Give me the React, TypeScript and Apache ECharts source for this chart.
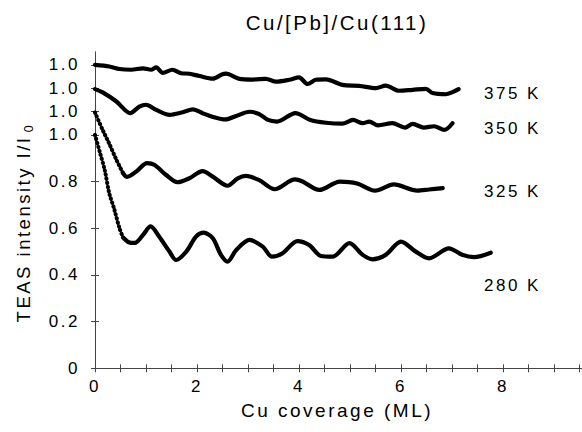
import React, { useEffect, useRef } from "react";
import * as echarts from "echarts";

const chartTitle = "Cu/[Pb]/Cu(111)";
const xAxisTitle = "Cu coverage (ML)";
const yAxisTitle = "TEAS intensity I/I";
const yAxisTitleSub = "0";

const xTicks = [0, 0.5, 1, 1.5, 2, 2.5, 3, 3.5, 4, 4.5, 5, 5.5, 6, 6.5, 7, 7.5, 8, 8.5, 9, 9.5];
const xTickLabels = [0, 2, 4, 6, 8];
const yTicks = [0, 0.2, 0.4, 0.6, 0.8, 1.0, 1.1, 1.2, 1.3];
const yTickLabels = ["0", "0.2", "0.4", "0.6", "0.8", "1.0", "1.0", "1.0", "1.0"];

const tempLabels = ["375 K", "350 K", "325 K", "280 K"];

const x375 = [0, 0.28, 0.48, 0.71, 0.94, 1.1, 1.2, 1.33, 1.52, 1.69, 1.85, 2.05, 2.31, 2.5, 2.57, 2.83, 3.09, 3.35, 3.55, 3.81, 4.0, 4.17, 4.33, 4.53, 4.85, 5.18, 5.51, 5.7, 5.96, 6.23, 6.49, 6.62, 6.88, 7.01, 7.13];
const y375 = [1.3, 1.293, 1.282, 1.279, 1.285, 1.279, 1.289, 1.266, 1.279, 1.264, 1.262, 1.252, 1.241, 1.26, 1.262, 1.24, 1.237, 1.24, 1.228, 1.236, 1.246, 1.218, 1.236, 1.238, 1.214, 1.21, 1.2, 1.211, 1.189, 1.193, 1.197, 1.179, 1.174, 1.183, 1.196];

const x350 = [0, 0.15, 0.42, 0.69, 0.87, 1.0, 1.2, 1.46, 1.72, 1.92, 2.11, 2.3, 2.56, 2.77, 3.03, 3.22, 3.39, 3.57, 3.93, 4.22, 4.53, 4.85, 5.06, 5.25, 5.38, 5.55, 5.83, 6.08, 6.23, 6.45, 6.65, 6.85, 7.01];
const y350 = [1.196, 1.182, 1.143, 1.093, 1.121, 1.129, 1.107, 1.086, 1.097, 1.109, 1.093, 1.078, 1.066, 1.081, 1.099, 1.089, 1.064, 1.057, 1.093, 1.064, 1.052, 1.048, 1.064, 1.05, 1.057, 1.041, 1.05, 1.031, 1.047, 1.031, 1.037, 1.021, 1.05];

const x325 = [0, 0.15, 0.28, 0.42, 0.55, 0.63, 0.81, 1.02, 1.17, 1.39, 1.62, 1.85, 2.11, 2.31, 2.6, 2.8, 2.96, 3.22, 3.52, 3.92, 4.07, 4.4, 4.8, 5.14, 5.49, 5.86, 6.32, 6.55, 6.82];
const y325 = [1.096, 1.021, 0.962, 0.893, 0.836, 0.82, 0.843, 0.879, 0.871, 0.829, 0.797, 0.814, 0.845, 0.821, 0.782, 0.814, 0.824, 0.806, 0.767, 0.809, 0.8, 0.764, 0.8, 0.792, 0.761, 0.788, 0.761, 0.766, 0.772];

const x280 = [0, 0.09, 0.19, 0.28, 0.38, 0.48, 0.55, 0.66, 0.78, 0.94, 1.09, 1.26, 1.46, 1.59, 1.79, 1.98, 2.13, 2.31, 2.47, 2.6, 2.77, 3.03, 3.29, 3.47, 3.68, 3.97, 4.2, 4.43, 4.66, 4.99, 5.25, 5.44, 5.7, 6.0, 6.29, 6.55, 6.94, 7.2, 7.43, 7.76];
const y280 = [1.0, 0.93, 0.85, 0.75, 0.68, 0.6, 0.56, 0.54, 0.537, 0.571, 0.608, 0.564, 0.5, 0.464, 0.5, 0.564, 0.581, 0.557, 0.486, 0.457, 0.507, 0.55, 0.521, 0.478, 0.493, 0.545, 0.528, 0.481, 0.478, 0.536, 0.486, 0.467, 0.486, 0.543, 0.5, 0.471, 0.514, 0.486, 0.476, 0.495];

const steepEnd280 = 0.55;
const steepEnd325 = 0.55;

const FONT = '"Liberation Sans", Arial, sans-serif';
const SPACING = 2.5;

function pairs(xs: number[], ys: number[]) {
  return xs.map((v, i) => [v, ys[i]]);
}
function part(xs: number[], ys: number[], lo: number, hi: number) {
  return pairs(xs, ys).filter((p) => p[0] >= lo && p[0] <= hi);
}

export default function App() {
  const ref = useRef<HTMLDivElement>(null);
  useEffect(() => {
    if (!ref.current) return;
    const chart = echarts.init(ref.current, undefined, { renderer: "svg", width: 582, height: 432 });
    const solid = { color: "#000", width: 4.2, cap: "round", join: "round" };
    const dotted = { color: "#000", width: 4, type: [0.5, 3.6], cap: "round" };
    const base = { type: "line", showSymbol: false, smooth: 0.3, silent: true, clip: false };
    const axisColor = "#444";
    const tickCommon = { show: true, inside: true, length: 4, lineStyle: { color: axisColor, width: 1 } };
    const labelStyle = { color: "#000", fontSize: 17, fontFamily: FONT };
    const option: any = {
      animation: false,
      textStyle: { fontFamily: FONT },
      grid: { left: 95, top: 52, width: 487.5, height: 316.3, containLabel: false },
      xAxis: [
        {
          type: "value", min: 0, max: 9.55, position: "bottom",
          axisLine: { show: true, lineStyle: { color: axisColor, width: 1 } },
          axisTick: { ...tickCommon, customValues: xTicks },
          axisLabel: { ...labelStyle, margin: 10, customValues: xTickLabels, formatter: (v: number) => String(v) },
          splitLine: { show: false },
        },
        {
          type: "value", min: 0, max: 9.55, position: "top",
          axisLine: { show: true, lineStyle: { color: axisColor, width: 1 } },
          axisTick: { ...tickCommon, customValues: xTicks },
          axisLabel: { show: false },
          splitLine: { show: false },
        },
      ],
      yAxis: [
        {
          type: "value", min: 0, max: 1.355, position: "left",
          axisLine: { show: true, lineStyle: { color: "#666", width: 1 } },
          axisTick: { ...tickCommon, customValues: yTicks },
          axisLabel: {
            ...labelStyle, margin: 15, customValues: yTicks,
            formatter: (v: number) => {
              const i = yTicks.findIndex((t) => Math.abs(t - v) < 1e-6);
              return i >= 0 ? yTickLabels[i] : "";
            },
          },
          splitLine: { show: false },
        },
        {
          type: "value", min: 0, max: 1.355, position: "right",
          axisLine: { show: true, lineStyle: { color: axisColor, width: 1 } },
          axisTick: { ...tickCommon, customValues: yTicks },
          axisLabel: { show: false },
          splitLine: { show: false },
        },
      ],
      series: [
        { ...base, name: tempLabels[0], data: pairs(x375, y375), lineStyle: solid },
        { ...base, name: tempLabels[1], data: pairs(x350, y350), lineStyle: solid },
        { ...base, name: tempLabels[2] + " a", data: part(x325, y325, 0, steepEnd325), lineStyle: dotted },
        { ...base, name: tempLabels[2], data: part(x325, y325, steepEnd325, 99), lineStyle: solid },
        { ...base, name: tempLabels[3] + " a", data: part(x280, y280, 0, steepEnd280), lineStyle: dotted },
        { ...base, name: tempLabels[3], data: part(x280, y280, steepEnd280, 99), lineStyle: solid },
      ],
      graphic: [
        {
          type: "text", x: 337, y: 22,
          style: { text: chartTitle, fill: "#000", font: `20.5px ${FONT}`, fontSize: 20.5, fontFamily: FONT, align: "center", verticalAlign: "middle", textAlign: "center", textVerticalAlign: "middle" },
        },
        {
          type: "text", x: 337, y: 410,
          style: { text: xAxisTitle, fill: "#000", font: `19px ${FONT}`, fontSize: 19, fontFamily: FONT, align: "center", verticalAlign: "middle", textAlign: "center", textVerticalAlign: "middle" },
        },
        {
          type: "text", x: 23, y: 212, rotation: Math.PI / 2,
          style: {
            text: `{a|${yAxisTitle}}{s|${yAxisTitleSub}}`,
            fill: "#000", fontFamily: FONT, align: "center", verticalAlign: "middle", textAlign: "center", textVerticalAlign: "middle",
            rich: {
              a: { fontSize: 18.5, fontFamily: FONT, fill: "#000", lineHeight: 24, verticalAlign: "middle" },
              s: { fontSize: 12.5, fontFamily: FONT, fill: "#000", lineHeight: 24, verticalAlign: "bottom", padding: [0, 0, 0, 27] },
            },
          },
        },
        ...tempLabels.map((t, i) => ({
          type: "text", x: 484, y: [93, 128, 191, 285][i],
          style: { text: t, fill: "#000", font: `17px ${FONT}`, fontSize: 17, fontFamily: FONT, align: "left", verticalAlign: "middle", textAlign: "left", textVerticalAlign: "middle" },
        })),
      ],
    };
    chart.setOption(option);
    return () => chart.dispose();
  }, []);
  return (
    <div
      ref={ref}
      style={{ position: "fixed", left: 0, top: 0, width: 582, height: 432, background: "#fff", letterSpacing: `${SPACING}px`, overflow: "hidden" }}
    />
  );
}
